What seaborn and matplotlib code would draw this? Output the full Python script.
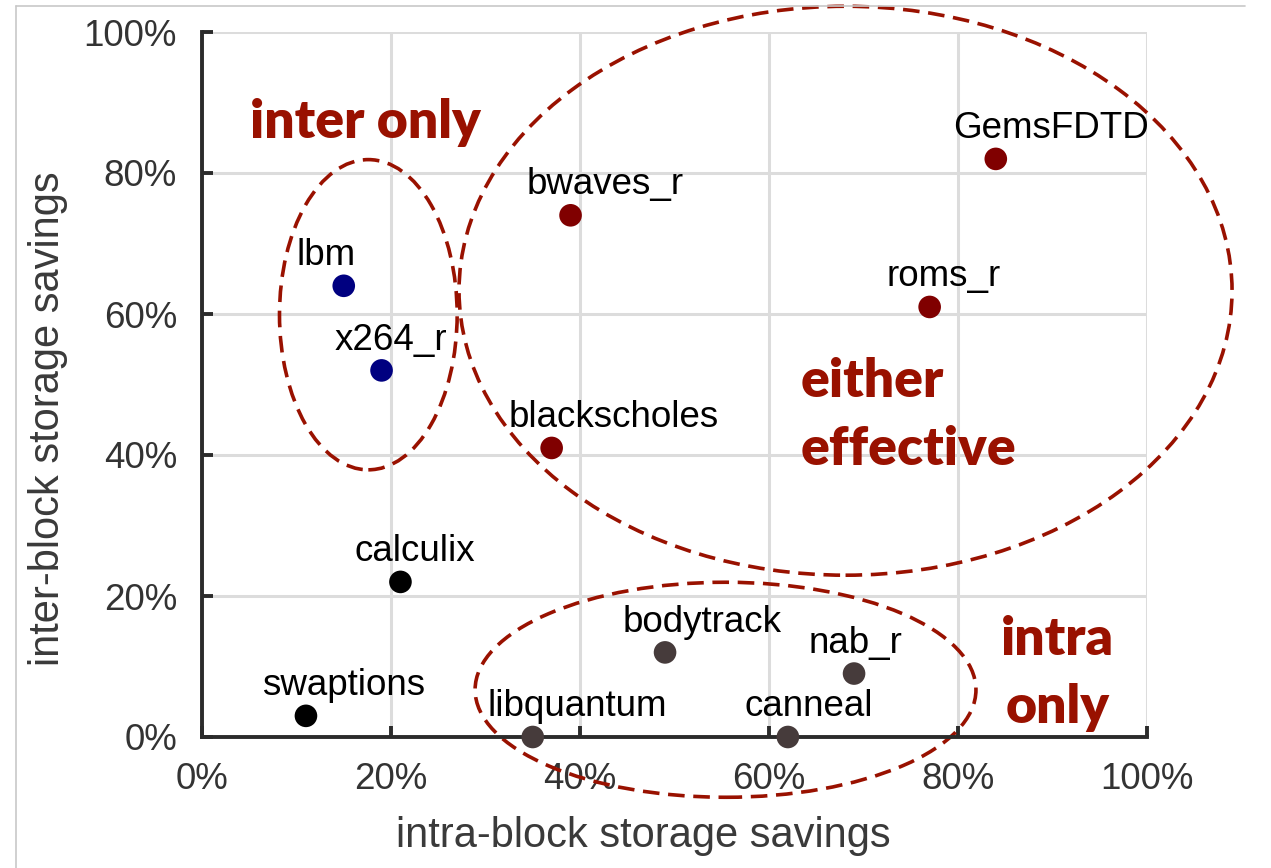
import matplotlib
matplotlib.use("Agg")
import matplotlib.pyplot as plt
import seaborn as sns
import pandas as pd
from matplotlib.patches import Ellipse
from matplotlib.lines import Line2D
from matplotlib.ticker import PercentFormatter

# benchmark data (percent)
benchmarks = ["lbm", "x264_r", "bwaves_r", "blackscholes", "GemsFDTD", "roms_r",
              "calculix", "swaptions", "libquantum", "bodytrack", "nab_r", "canneal"]
intra_savings = [15, 19, 39, 37, 84, 77, 21, 11, 35, 49, 69, 62]
inter_savings = [64, 52, 74, 41, 82, 61, 22, 3, 0, 12, 9, 0]
groups = ["inter", "inter", "either", "either", "either", "either",
          "none", "none", "intra", "intra", "intra", "intra"]

palette = {"inter": "#000080", "either": "#800000", "none": "#000000", "intra": "#463b3b"}
region_color = "#991100"

# label offsets in points (dx) relative to each point
label_dx = {"lbm": -13, "x264_r": 7, "bwaves_r": 25, "blackscholes": 45, "GemsFDTD": 40,
            "roms_r": 10, "calculix": 10, "swaptions": 27, "libquantum": 32,
            "bodytrack": 27, "nab_r": 1, "canneal": 15}

df = pd.DataFrame({"bench": benchmarks, "intra": intra_savings,
                   "inter": inter_savings, "group": groups})

sns.set_style("ticks")
plt.rcParams["font.family"] = ["Liberation Sans", "DejaVu Sans"]

fig = plt.figure(figsize=(12.71, 8.68), dpi=100)
ax = fig.add_axes([202 / 1271, 131 / 868, 945 / 1271, 705 / 868])

sns.scatterplot(data=df, x="intra", y="inter", hue="group", palette=palette,
                s=265, linewidth=0, legend=False, ax=ax, zorder=5, clip_on=False)

for b, x, y in zip(benchmarks, intra_savings, inter_savings):
    ax.annotate(b, (x, y), xytext=(label_dx[b], 15), textcoords="offset points",
                ha="center", va="baseline", fontsize=26.5, color="black", zorder=6)

ax.set_xlim(0, 100)
ax.set_ylim(0, 100)
ax.set_xticks(range(0, 101, 20))
ax.set_yticks(range(0, 101, 20))
ax.xaxis.set_major_formatter(PercentFormatter(decimals=0))
ax.yaxis.set_major_formatter(PercentFormatter(decimals=0))
ax.grid(True, color="#dcdcdc", linewidth=2.2, zorder=0)
ax.set_axisbelow(True)

for side in ["top", "right"]:
    ax.spines[side].set_visible(False)
for side in ["left", "bottom"]:
    ax.spines[side].set_color("#2b2b2b")
    ax.spines[side].set_linewidth(2.8)
    ax.spines[side].set_zorder(4)
ax.tick_params(direction="in", length=8, width=2.8, color="#2b2b2b",
               labelsize=26.5, labelcolor="#333333", pad=18)

ax.set_xlabel("intra-block storage savings", fontsize=30, color="#3a3a3a")
ax.set_ylabel("inter-block storage savings", fontsize=30, color="#3a3a3a")
ax.xaxis.set_label_coords(0.467, -0.112)
ax.yaxis.set_label_coords(-0.142, 0.452)

# dashed region outlines
ell_style = dict(fill=False, edgecolor=region_color, linewidth=2.6,
                 linestyle=(0, (4.6, 2.4)), clip_on=False, zorder=3)
ax.add_patch(Ellipse((17.6, 59.9), 18.8, 44.0, **ell_style))
ax.add_patch(Ellipse((68.1, 63.3), 81.8, 80.7, **ell_style))
ax.add_patch(Ellipse((55.4, 6.7), 53.0, 30.5, **ell_style))

region_font = dict(fontsize=38.5, fontweight="heavy", color=region_color,
                   family=["Lato", "DejaVu Sans"], va="baseline", zorder=7)
ax.text(5.1, 85.0, "inter only", ha="left", **region_font)
ax.text(63.3, 48.2, "either", ha="left", **region_font)
ax.text(63.3, 38.6, "effective", ha="left", **region_font)
ax.text(90.5, 11.6, "intra", ha="center", **region_font)
ax.text(90.5, 2.0, "only", ha="center", **region_font)

# light frame of the original screenshot
fig.add_artist(Line2D([16 / 1271, 1245 / 1271], [1 - 6 / 868, 1 - 6 / 868],
                      color="#c8c8c8", linewidth=1.2))
fig.add_artist(Line2D([16 / 1271, 16 / 1271], [0, 1 - 6 / 868],
                      color="#c8c8c8", linewidth=1.2))

fig.savefig("out.png", dpi=100)
plt.close(fig)
